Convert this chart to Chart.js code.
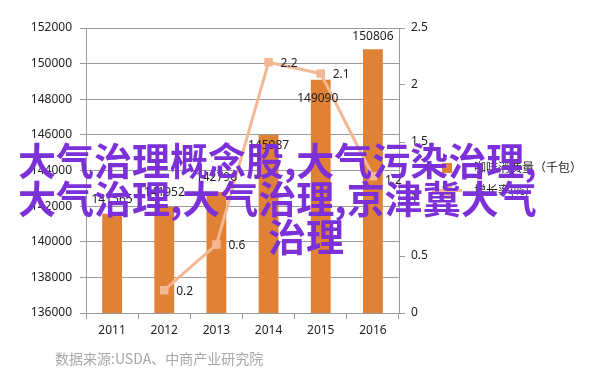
<!DOCTYPE html>
<html>
<head>
<meta charset="utf-8">
<script src="https://cdn.jsdelivr.net/npm/chart.js@4.4.1/dist/chart.umd.min.js"></script>
<style>
  html, body { margin: 0; padding: 0; background: #fff; }
  #wrap { position: relative; width: 602px; height: 384px; overflow: hidden; }
  canvas { position: absolute; left: 0; top: 0; }
  .ov { position: absolute; white-space: nowrap; font-family: "Noto Sans CJK SC", sans-serif;
        font-size: 38px; line-height: 38px; font-weight: 700; color: #7b30d8; }
  .lg { position: absolute; font-family: "Noto Sans CJK SC", sans-serif; font-size: 12px; color: #222; white-space: nowrap; }
  #src { position: absolute; left: 55px; top: 348px; font-family: "Noto Sans CJK SC", serif; font-size: 14px; color: #a8a8a8; white-space: nowrap; }
</style>
</head>
<body>
<div id="wrap">
  <canvas id="c" width="602" height="384"></canvas>
  <div class="lg" style="left:442px;top:158px;"><span style="display:inline-block;width:10px;height:10px;background:#df8236;vertical-align:-1px;margin-right:22px;"></span>咖啡消费量（千包）</div>
  <div class="lg" style="left:432px;top:181px;"><span style="display:inline-block;position:relative;width:30px;height:10px;margin-right:12px;vertical-align:-1px;"><span style="position:absolute;left:0;top:3px;width:30px;height:3px;background:#f4b793;"></span><span style="position:absolute;left:10px;top:0;width:10px;height:10px;background:#f4b793;"></span></span>增长率(%)</div>
  <div id="src">数据来源:USDA、中商产业研究院</div>
  <div class="ov" style="left:18px;top:140px;">大气治理概念股,大气污染治理,</div>
  <div class="ov" style="left:18px;top:178px;">大气治理,大气治理,京津冀大气</div>
  <div class="ov" style="left:268px;top:216px;">治理</div>
</div>
<script>
const categories = ["2011", "2012", "2013", "2014", "2015", "2016"];
const consumption = [141565, 141952, 142796, 145987, 149090, 150806];
const growth = [null, 0.2, 0.6, 2.2, 2.1, 1.2];
const leftTicks = [136000, 138000, 140000, 142000, 144000, 146000, 148000, 150000, 152000];
const rightTicks = [0, 0.5, 1, 1.5, 2, 2.5];

const FONT = { family: "'Noto Sans', sans-serif", size: 12 };
const GRID = "#9a9a9a";

const labelPlugin = {
  id: "labels",
  afterDatasetsDraw(chart) {
    const ctx = chart.ctx;
    ctx.save();
    ctx.font = "12px 'Noto Sans', sans-serif";
    ctx.fillStyle = "#222";
    ctx.textBaseline = "middle";
    const barDy = [-14, -14, -14, 10, 19, -13];
    const barDx = [0, 0, 0, 0, -3, 0];
    ctx.textAlign = "center";
    chart.getDatasetMeta(0).data.forEach((el, i) => {
      ctx.fillText(String(consumption[i]), el.x + barDx[i], el.y + barDy[i]);
    });
    ctx.textAlign = "left";
    const lineDy = [0, 1, 1, 1, 1, 4];
    chart.getDatasetMeta(1).data.forEach((el, i) => {
      if (growth[i] === null) return;
      ctx.fillText(String(growth[i]), el.x + 12, el.y + lineDy[i]);
    });
    ctx.restore();
  }
};

new Chart(document.getElementById("c"), {
  data: {
    labels: categories,
    datasets: [
      {
        type: "bar",
        label: "咖啡消费量（千包）",
        data: consumption,
        backgroundColor: "#df8236",
        yAxisID: "y",
        categoryPercentage: 1,
        barPercentage: 0.38,
        order: 2
      },
      {
        type: "line",
        label: "增长率(%)",
        data: growth,
        borderColor: "#f4b793",
        backgroundColor: "#f4b793",
        borderWidth: 3,
        pointStyle: "rect",
        pointRadius: 6,
        pointBorderWidth: 0,
        tension: 0,
        yAxisID: "y1",
        order: 1
      }
    ]
  },
  options: {
    responsive: false,
    animation: false,
    layout: { padding: { top: 28, left: 0, right: 0, bottom: 0 } },
    plugins: { legend: { display: false }, tooltip: { enabled: false } },
    scales: {
      x: {
        grid: { display: true, drawOnChartArea: false, offset: true, color: GRID, tickLength: 6 },
        border: { display: true, color: GRID },
        ticks: { font: FONT, color: "#222", padding: 4 },
        afterFit(s) { s.height = 71; }
      },
      y: {
        position: "left",
        min: 136000, max: 152000,
        afterBuildTicks(s) { s.ticks = leftTicks.map(v => ({ value: v })); },
        grid: { color: GRID, tickLength: 6 },
        border: { display: true, color: GRID },
        ticks: { font: FONT, color: "#222", padding: 8, callback: v => String(v) },
        afterFit(s) { s.width = 86; }
      },
      y1: {
        position: "right",
        min: 0, max: 2.5,
        afterBuildTicks(s) { s.ticks = rightTicks.map(v => ({ value: v })); },
        grid: { drawOnChartArea: false, color: GRID, tickLength: 6 },
        border: { display: true, color: GRID },
        ticks: { font: FONT, color: "#222", padding: 6, callback: v => String(v) },
        afterFit(s) { s.width = 203; }
      }
    }
  },
  plugins: [labelPlugin]
});
</script>
</body>
</html>
